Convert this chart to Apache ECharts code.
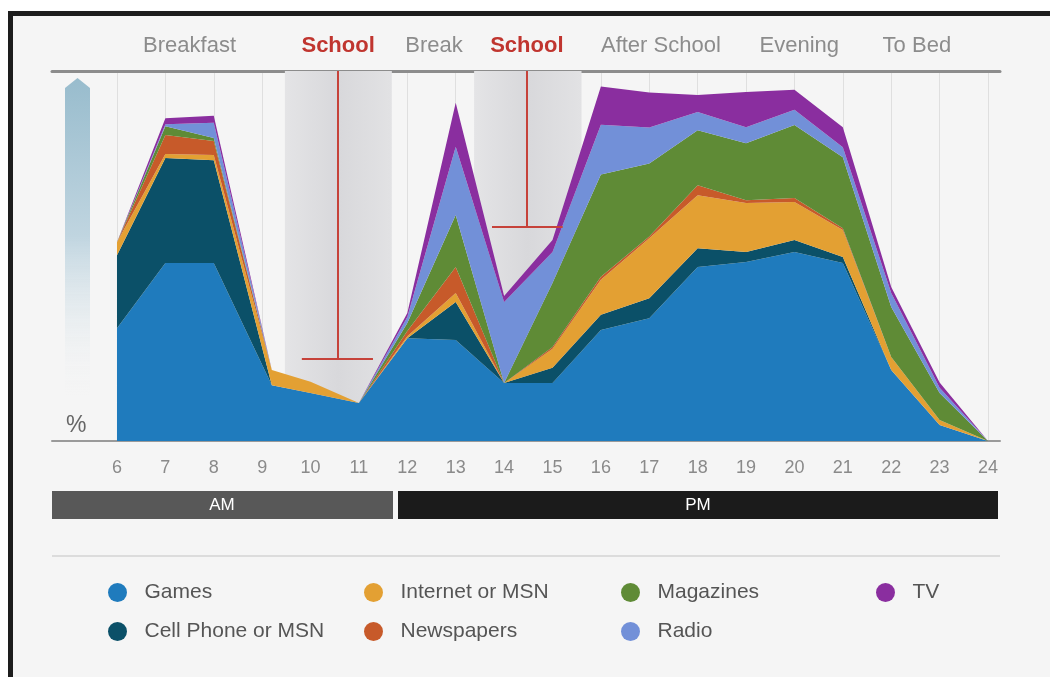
<!DOCTYPE html>
<html><head><meta charset="utf-8">
<script src="https://cdn.jsdelivr.net/npm/echarts@6/dist/echarts.min.js"></script>
<style>
html,body{margin:0;padding:0;background:#fff;}
#frame{position:absolute;left:8px;top:11px;width:1037px;height:661px;border-left:5px solid #1d1d1d;border-top:5px solid #1d1d1d;background:#f5f5f5;}
#chart{position:absolute;left:0;top:0;width:1050px;height:677px;}
</style></head><body>
<div id="frame"></div><div id="chart"></div>
<script>
// x positions (hour of day) of the data points
const hours = [6, 7, 8, 9.2, 10, 11, 12, 13, 14, 15, 16, 17, 18, 19, 20, 21, 22, 23, 24];
// stacked shares (%) per medium, bottom to top
const games      = [30.5, 48.1, 48.1, 15.1, 13.0, 10.3, 27.8, 27.3, 15.7, 15.7, 30.0, 33.2, 47.0, 48.4, 51.1, 48.1, 19.2, 4.3, 0];
const cellPhone  = [19.7, 28.4, 27.8, 0, 0, 0, 0, 10.3, 0, 4.1, 4.1, 5.4, 5.1, 2.7, 3.2, 1.6, 0, 0, 0];
const internet   = [3.5, 1.1, 1.4, 4.1, 3.0, 0, 0.5, 2.4, 0, 5.1, 9.5, 16.2, 14.3, 13.2, 10.3, 7.3, 3.5, 1.4, 0];
const newspapers = [0, 5.1, 3.8, 0, 0, 0, 1.4, 7.0, 0, 0.5, 0.8, 0.5, 2.7, 0.8, 1.1, 0.5, 0, 0, 0];
const magazines  = [0, 2.4, 0.8, 0, 0, 0, 2.2, 14.1, 0, 17.3, 27.6, 19.7, 14.9, 15.4, 19.7, 19.2, 13.5, 7.3, 0];
const radio      = [0, 0.5, 4.1, 0, 0, 0, 1.6, 18.4, 21.9, 8.4, 13.5, 9.7, 4.9, 4.3, 4.1, 2.7, 3.8, 1.4, 0];
const tv         = [0, 1.6, 1.9, 0, 0, 0, 1.1, 11.9, 1.6, 3.2, 10.3, 9.5, 4.6, 9.5, 5.4, 5.4, 1.6, 1.4, 0];

const seriesNames = ['Games', 'Cell Phone or MSN', 'Internet or MSN', 'Newspapers', 'Magazines', 'Radio', 'TV'];
const seriesValues = [games, cellPhone, internet, newspapers, magazines, radio, tv];
const seriesColors = ['#1f7bbd', '#0b5068', '#e3a033', '#c75a2a', '#5f8b36', '#7290d8', '#8a2e9f'];

// tick labels
const tickHours = [6, 7, 8, 9, 10, 11, 12, 13, 14, 15, 16, 17, 18, 19, 20, 21, 22, 23, 24];
// day-period labels along the top, and their centre hour
const periodLabels  = ['Breakfast', 'School', 'Break', 'School', 'After School', 'Evening', 'To Bed'];
const periodCenters = [7.5, 10.57, 12.55, 14.47, 17.24, 20.1, 22.53];
// shaded school periods (hours)
const schoolBands = [[9.47, 11.68], [13.38, 15.6]];
// red school markers: stem hour, bar start, bar end, bar level (%)
const schoolMarkers = [[10.57, 9.82, 11.29, 22.2], [14.47, 13.75, 15.21, 57.8]];

const FONT = '"Liberation Sans", Arial, sans-serif';
const X_MIN = 4.657, X_MAX = 24.248;

const chart = echarts.init(document.getElementById('chart'), null, {renderer: 'canvas'});

const bandColor = {
  type: 'linear', x: 0, y: 0, x2: 1, y2: 0,
  colorStops: [{offset: 0, color: '#e4e4e6'}, {offset: 0.5, color: '#d8d8db'}, {offset: 1, color: '#e2e2e4'}]
};

const series = [
  {
    type: 'line', data: [], z: 0, silent: true,
    markLine: {
      silent: true, z: 0, symbol: ['none', 'none'], label: {show: false},
      lineStyle: {color: '#dfdfdf', width: 1, type: 'solid'},
      data: tickHours.map(h => ({xAxis: h}))
    }
  },
  {
    type: 'line', data: [], z: 1, silent: true,
    markArea: {
      silent: true, z: 1,
      data: schoolBands.map(b => [{xAxis: b[0], itemStyle: {color: bandColor}}, {xAxis: b[1]}])
    }
  },
  {
    type: 'line', data: [], z: 2, silent: true,
    markLine: {
      silent: true, symbol: ['none', 'none'], label: {show: false},
      lineStyle: {color: '#c6423a', width: 2, type: 'solid'},
      data: schoolMarkers.flatMap(m => [
        [{coord: [m[0], 100]}, {coord: [m[0], m[3]]}],
        [{coord: [m[1], m[3]]}, {coord: [m[2], m[3]]}]
      ])
    }
  }
].concat(seriesNames.map((name, i) => ({
  name: name,
  type: 'line',
  stack: 'media',
  z: 3,
  silent: true,
  symbol: 'none',
  color: seriesColors[i],
  lineStyle: {width: 0},
  itemStyle: {color: seriesColors[i]},
  areaStyle: {color: seriesColors[i], opacity: 1},
  // value first so that the stack is built on the y dimension
  encode: {x: 1, y: 0},
  data: hours.map((h, j) => [seriesValues[i][j], h])
})));

function legendCol(names, left) {
  return {
    data: names, orient: 'vertical', left: left, top: 577,
    icon: 'circle', itemWidth: 44, itemHeight: 19, itemGap: 18,
    selectedMode: false,
    textStyle: {fontSize: 21, color: '#555', fontFamily: FONT}
  };
}

chart.setOption({
  animation: false,
  backgroundColor: 'transparent',
  textStyle: {fontFamily: FONT},
  grid: {left: 52, right: 50, top: 71, bottom: 236},
  xAxis: [
    {
      type: 'value', position: 'bottom', min: X_MIN, max: X_MAX,
      axisLine: {show: true, lineStyle: {color: '#9a9a9a', width: 2}},
      axisTick: {show: false},
      splitLine: {show: false},
      axisLabel: {customValues: tickHours, color: '#8a8a8a', fontSize: 18, margin: 18, fontFamily: FONT}
    },
    {
      type: 'value', position: 'top', min: X_MIN, max: X_MAX,
      axisLine: {show: true, lineStyle: {color: '#8c8c8c', width: 3}},
      axisTick: {show: false},
      splitLine: {show: false},
      axisLabel: {
        customValues: periodCenters, margin: 14,
        formatter: function (v) {
          let best = 0;
          periodCenters.forEach((c, i) => { if (Math.abs(c - v) < Math.abs(periodCenters[best] - v)) best = i; });
          const t = periodLabels[best];
          return t === 'School' ? '{r|' + t + '}' : '{g|' + t + '}';
        },
        rich: {
          r: {color: '#c0352f', fontSize: 22, fontWeight: 'bold', fontFamily: FONT},
          g: {color: '#8c8c8c', fontSize: 22, fontFamily: FONT}
        }
      }
    }
  ],
  yAxis: {type: 'value', min: 0, max: 100, show: false},
  legend: [
    legendCol(['Games', 'Cell Phone or MSN'], 103),
    legendCol(['Internet or MSN', 'Newspapers'], 359),
    legendCol(['Magazines', 'Radio'], 616),
    legendCol(['TV'], 871)
  ],
  graphic: [
    {
      type: 'polygon', silent: true,
      shape: {points: [[65, 88], [77.5, 78], [90, 88], [90, 395], [65, 395]]},
      style: {fill: {type: 'linear', x: 0, y: 0, x2: 0, y2: 1, colorStops: [
        {offset: 0, color: '#98bccd'}, {offset: 0.5, color: '#c0d5e0'}, {offset: 1, color: 'rgba(245,245,245,0)'}]}}
    },
    {type: 'text', silent: true, left: 66, top: 414, style: {text: '%', fontSize: 23, fill: '#666', fontFamily: FONT}},
    {type: 'rect', silent: true, shape: {x: 52, y: 491, width: 341, height: 28}, style: {fill: '#585858'}},
    {type: 'rect', silent: true, shape: {x: 398, y: 491, width: 600, height: 28}, style: {fill: '#1b1b1b'}},
    {type: 'text', silent: true, x: 222, y: 505, style: {text: 'AM', fill: '#fff', fontSize: 17, align: 'center', verticalAlign: 'middle', fontFamily: FONT}},
    {type: 'text', silent: true, x: 698, y: 505, style: {text: 'PM', fill: '#fff', fontSize: 17, align: 'center', verticalAlign: 'middle', fontFamily: FONT}},
    {type: 'line', silent: true, shape: {x1: 52, y1: 556, x2: 1000, y2: 556}, style: {stroke: '#dcdcdc', lineWidth: 2}}
  ],
  series: series
});
</script>
</body></html>
